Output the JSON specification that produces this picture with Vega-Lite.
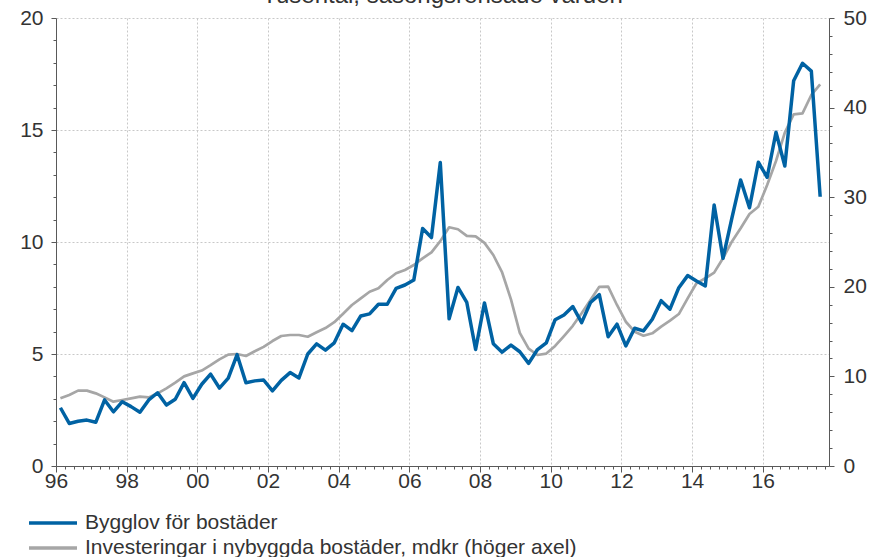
{
  "$schema": "https://vega.github.io/schema/vega-lite/v6.json",
  "width": 773,
  "height": 448,
  "autosize": {"type": "none"},
  "padding": {"left": 56, "top": 18, "right": 40, "bottom": 91},
  "background": "white",
  "title": {
    "text": "Tusental, säsongsrensade värden",
    "font": "Liberation Sans",
    "fontSize": 24,
    "fontWeight": "normal",
    "color": "#333333",
    "anchor": "middle",
    "baseline": "alphabetic",
    "offset": 0,
    "dy": 20
  },
  "config": {
    "view": {"stroke": null},
    "axis": {
      "labelFont": "Liberation Sans",
      "labelFontSize": 21,
      "labelColor": "#333333",
      "domainColor": "#595959",
      "tickColor": "#595959",
      "domainWidth": 1,
      "tickWidth": 1,
      "gridColor": "#c8c8c8",
      "gridDash": [2, 2],
      "gridWidth": 1,
      "title": null,
      "labelOverlap": false,
      "labelBound": false,
      "labelFlush": false
    },
    "legend": {
      "labelFont": "Liberation Sans",
      "labelFontSize": 21,
      "labelColor": "#333333",
      "labelLimit": 0
    }
  },
  "data": {
    "values": [
      {"kvartal": 1996.125, "bygglov": 2.6, "investeringar": 7.55},
      {"kvartal": 1996.375, "bygglov": 1.9, "investeringar": 7.92},
      {"kvartal": 1996.625, "bygglov": 2.0, "investeringar": 8.41},
      {"kvartal": 1996.875, "bygglov": 2.05, "investeringar": 8.41},
      {"kvartal": 1997.125, "bygglov": 1.95, "investeringar": 8.11},
      {"kvartal": 1997.375, "bygglov": 2.95, "investeringar": 7.66},
      {"kvartal": 1997.625, "bygglov": 2.42, "investeringar": 7.18},
      {"kvartal": 1997.875, "bygglov": 2.87, "investeringar": 7.37},
      {"kvartal": 1998.125, "bygglov": 2.65, "investeringar": 7.55},
      {"kvartal": 1998.375, "bygglov": 2.4, "investeringar": 7.74},
      {"kvartal": 1998.625, "bygglov": 2.95, "investeringar": 7.66},
      {"kvartal": 1998.875, "bygglov": 3.27, "investeringar": 8.11},
      {"kvartal": 1999.125, "bygglov": 2.72, "investeringar": 8.67},
      {"kvartal": 1999.375, "bygglov": 2.98, "investeringar": 9.3},
      {"kvartal": 1999.625, "bygglov": 3.72, "investeringar": 10.0},
      {"kvartal": 1999.875, "bygglov": 3.02, "investeringar": 10.34},
      {"kvartal": 2000.125, "bygglov": 3.65, "investeringar": 10.65},
      {"kvartal": 2000.375, "bygglov": 4.1, "investeringar": 11.25},
      {"kvartal": 2000.625, "bygglov": 3.48, "investeringar": 11.9},
      {"kvartal": 2000.875, "bygglov": 3.92, "investeringar": 12.43},
      {"kvartal": 2001.125, "bygglov": 4.97, "investeringar": 12.5},
      {"kvartal": 2001.375, "bygglov": 3.72, "investeringar": 12.28},
      {"kvartal": 2001.625, "bygglov": 3.8, "investeringar": 12.8},
      {"kvartal": 2001.875, "bygglov": 3.84, "investeringar": 13.3},
      {"kvartal": 2002.125, "bygglov": 3.35, "investeringar": 13.95},
      {"kvartal": 2002.375, "bygglov": 3.82, "investeringar": 14.51},
      {"kvartal": 2002.625, "bygglov": 4.17, "investeringar": 14.62},
      {"kvartal": 2002.875, "bygglov": 3.93, "investeringar": 14.62},
      {"kvartal": 2003.125, "bygglov": 5.0, "investeringar": 14.43},
      {"kvartal": 2003.375, "bygglov": 5.45, "investeringar": 14.93},
      {"kvartal": 2003.625, "bygglov": 5.17, "investeringar": 15.4},
      {"kvartal": 2003.875, "bygglov": 5.5, "investeringar": 16.05},
      {"kvartal": 2004.125, "bygglov": 6.33, "investeringar": 17.0},
      {"kvartal": 2004.375, "bygglov": 6.04, "investeringar": 17.97},
      {"kvartal": 2004.625, "bygglov": 6.7, "investeringar": 18.71},
      {"kvartal": 2004.875, "bygglov": 6.79, "investeringar": 19.45},
      {"kvartal": 2005.125, "bygglov": 7.22, "investeringar": 19.83},
      {"kvartal": 2005.375, "bygglov": 7.22, "investeringar": 20.76},
      {"kvartal": 2005.625, "bygglov": 7.93, "investeringar": 21.51},
      {"kvartal": 2005.875, "bygglov": 8.08, "investeringar": 21.88},
      {"kvartal": 2006.125, "bygglov": 8.3, "investeringar": 22.43},
      {"kvartal": 2006.375, "bygglov": 10.6, "investeringar": 23.18},
      {"kvartal": 2006.625, "bygglov": 10.2, "investeringar": 23.85},
      {"kvartal": 2006.875, "bygglov": 13.55, "investeringar": 25.1},
      {"kvartal": 2007.125, "bygglov": 6.57, "investeringar": 26.64},
      {"kvartal": 2007.375, "bygglov": 7.97, "investeringar": 26.42},
      {"kvartal": 2007.625, "bygglov": 7.3, "investeringar": 25.68},
      {"kvartal": 2007.875, "bygglov": 5.2, "investeringar": 25.62},
      {"kvartal": 2008.125, "bygglov": 7.28, "investeringar": 24.9},
      {"kvartal": 2008.375, "bygglov": 5.46, "investeringar": 23.55},
      {"kvartal": 2008.625, "bygglov": 5.08, "investeringar": 21.6},
      {"kvartal": 2008.875, "bygglov": 5.4, "investeringar": 18.6},
      {"kvartal": 2009.125, "bygglov": 5.1, "investeringar": 14.85},
      {"kvartal": 2009.375, "bygglov": 4.58, "investeringar": 13.1},
      {"kvartal": 2009.625, "bygglov": 5.2, "investeringar": 12.39},
      {"kvartal": 2009.875, "bygglov": 5.5, "investeringar": 12.55},
      {"kvartal": 2010.125, "bygglov": 6.53, "investeringar": 13.4},
      {"kvartal": 2010.375, "bygglov": 6.74, "investeringar": 14.5},
      {"kvartal": 2010.625, "bygglov": 7.12, "investeringar": 15.65},
      {"kvartal": 2010.875, "bygglov": 6.4, "investeringar": 17.04},
      {"kvartal": 2011.125, "bygglov": 7.3, "investeringar": 18.53},
      {"kvartal": 2011.375, "bygglov": 7.65, "investeringar": 20.0},
      {"kvartal": 2011.625, "bygglov": 5.77, "investeringar": 20.01},
      {"kvartal": 2011.875, "bygglov": 6.33, "investeringar": 17.97},
      {"kvartal": 2012.125, "bygglov": 5.36, "investeringar": 16.1},
      {"kvartal": 2012.375, "bygglov": 6.15, "investeringar": 14.99},
      {"kvartal": 2012.625, "bygglov": 6.03, "investeringar": 14.54},
      {"kvartal": 2012.875, "bygglov": 6.55, "investeringar": 14.81},
      {"kvartal": 2013.125, "bygglov": 7.38, "investeringar": 15.55},
      {"kvartal": 2013.375, "bygglov": 7.0, "investeringar": 16.22},
      {"kvartal": 2013.625, "bygglov": 7.96, "investeringar": 16.96},
      {"kvartal": 2013.875, "bygglov": 8.5, "investeringar": 18.71},
      {"kvartal": 2014.125, "bygglov": 8.26, "investeringar": 20.39},
      {"kvartal": 2014.375, "bygglov": 8.04, "investeringar": 20.95},
      {"kvartal": 2014.625, "bygglov": 11.65, "investeringar": 21.58},
      {"kvartal": 2014.875, "bygglov": 9.27, "investeringar": 23.18},
      {"kvartal": 2015.125, "bygglov": 11.06, "investeringar": 25.03},
      {"kvartal": 2015.375, "bygglov": 12.77, "investeringar": 26.53},
      {"kvartal": 2015.625, "bygglov": 11.53, "investeringar": 28.13},
      {"kvartal": 2015.875, "bygglov": 13.56, "investeringar": 28.94},
      {"kvartal": 2016.125, "bygglov": 12.89, "investeringar": 31.36},
      {"kvartal": 2016.375, "bygglov": 14.9, "investeringar": 34.04},
      {"kvartal": 2016.625, "bygglov": 13.39, "investeringar": 37.2},
      {"kvartal": 2016.875, "bygglov": 17.2, "investeringar": 39.25},
      {"kvartal": 2017.125, "bygglov": 17.98, "investeringar": 39.36},
      {"kvartal": 2017.375, "bygglov": 17.63, "investeringar": 41.41},
      {"kvartal": 2017.625, "bygglov": 12.02, "investeringar": 42.6}
    ]
  },
  "encoding": {
    "x": {
      "field": "kvartal",
      "type": "quantitative",
      "scale": {"domain": [1996, 2017.875], "nice": false, "zero": false},
      "axis": {
        "values": [1996, 1996.25, 1996.5, 1996.75, 1997, 1997.25, 1997.5, 1997.75, 1998, 1998.25, 1998.5, 1998.75, 1999, 1999.25, 1999.5, 1999.75, 2000, 2000.25, 2000.5, 2000.75, 2001, 2001.25, 2001.5, 2001.75, 2002, 2002.25, 2002.5, 2002.75, 2003, 2003.25, 2003.5, 2003.75, 2004, 2004.25, 2004.5, 2004.75, 2005, 2005.25, 2005.5, 2005.75, 2006, 2006.25, 2006.5, 2006.75, 2007, 2007.25, 2007.5, 2007.75, 2008, 2008.25, 2008.5, 2008.75, 2009, 2009.25, 2009.5, 2009.75, 2010, 2010.25, 2010.5, 2010.75, 2011, 2011.25, 2011.5, 2011.75, 2012, 2012.25, 2012.5, 2012.75, 2013, 2013.25, 2013.5, 2013.75, 2014, 2014.25, 2014.5, 2014.75, 2015, 2015.25, 2015.5, 2015.75, 2016, 2016.25, 2016.5, 2016.75, 2017, 2017.25, 2017.5, 2017.75],
        "labelExpr": "datum.value % 2 == 0 ? format(datum.value % 100, '02d') : ''",
        "tickSize": {"condition": {"test": "datum.value % 2 == 0", "value": 6}, "value": 3},
        "labelPadding": -2,
        "grid": true,
        "gridOpacity": {"condition": {"test": "datum.value % 2 == 0 && datum.value > 1996", "value": 1}, "value": 0}
      }
    }
  },
  "layer": [
    {
      "mark": {"type": "line", "strokeWidth": 2.7, "strokeJoin": "round"},
      "encoding": {
        "y": {
          "field": "investeringar",
          "type": "quantitative",
          "scale": {"domain": [0, 50], "nice": false},
          "axis": {
            "orient": "right",
            "values": [0, 2, 4, 6, 8, 10, 12, 14, 16, 18, 20, 22, 24, 26, 28, 30, 32, 34, 36, 38, 40, 42, 44, 46, 48, 50],
            "labelExpr": "datum.value % 10 == 0 ? datum.label : ''",
            "tickSize": {"condition": {"test": "datum.value % 10 == 0", "value": 5}, "value": 3},
            "labelPadding": 9,
            "grid": false
          }
        },
        "color": {
          "datum": "Investeringar i nybyggda bostäder, mdkr (höger axel)"
        }
      }
    },
    {
      "mark": {"type": "line", "strokeWidth": 3.5, "strokeJoin": "round"},
      "encoding": {
        "y": {
          "field": "bygglov",
          "type": "quantitative",
          "scale": {"domain": [0, 20], "nice": false},
          "axis": {
            "orient": "left",
            "values": [0, 1, 2, 3, 4, 5, 6, 7, 8, 9, 10, 11, 12, 13, 14, 15, 16, 17, 18, 19, 20],
            "labelExpr": "datum.value % 5 == 0 ? datum.label : ''",
            "tickSize": {"condition": {"test": "datum.value % 5 == 0", "value": 5}, "value": 3},
            "labelPadding": 8,
            "grid": true,
            "gridOpacity": {"condition": {"test": "datum.value % 5 == 0 && datum.value > 0", "value": 1}, "value": 0}
          }
        },
        "color": {
          "datum": "Bygglov för bostäder",
          "scale": {
            "domain": ["Bygglov för bostäder", "Investeringar i nybyggda bostäder, mdkr (höger axel)"],
            "range": ["#0062a3", "#a6a6a6"]
          },
          "legend": {
            "title": null,
            "orient": "none",
            "legendX": -15,
            "legendY": 493,
            "symbolType": "M-2.4,0H2.4",
            "symbolSize": 400,
            "symbolStrokeWidth": 3.5,
            "labelOffset": 20,
            "rowPadding": 3
          }
        }
      }
    }
  ],
  "resolve": {"scale": {"y": "independent"}}
}
